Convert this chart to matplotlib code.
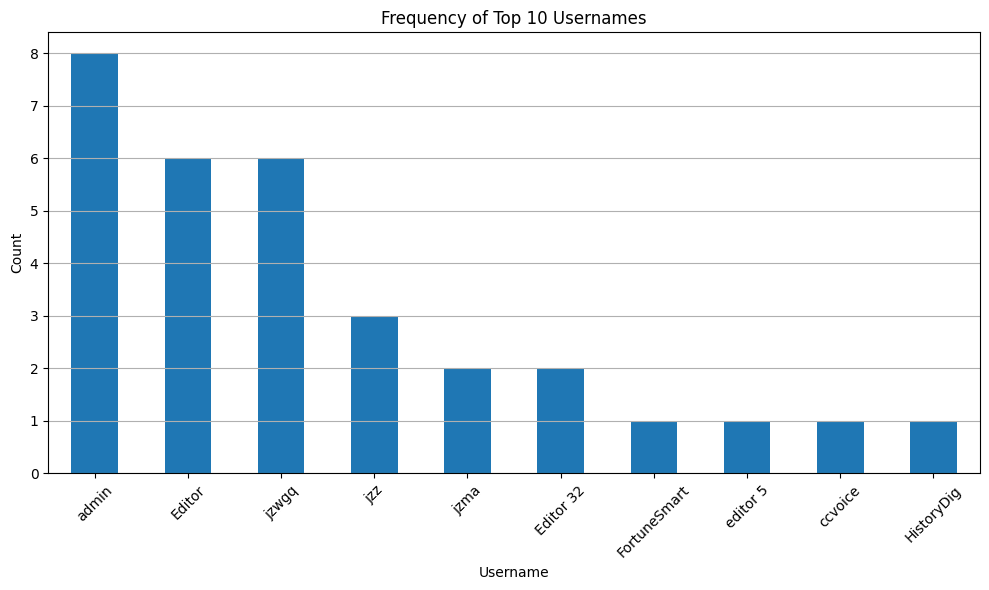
import matplotlib
matplotlib.use("Agg")
import matplotlib.pyplot as plt
import pandas as pd

# top 10 usernames and how often they appear
usernames = ["admin", "Editor", "jzwgq", "jzz", "jzma", "Editor 32",
             "FortuneSmart", "editor 5", "ccvoice", "HistoryDig"]
counts = [8, 6, 6, 3, 2, 2, 1, 1, 1, 1]

top_users = pd.Series(counts, index=usernames)

plt.figure(figsize=(10, 6))
top_users.plot(kind="bar", color="#1f77b4")
plt.title("Frequency of Top 10 Usernames")
plt.xlabel("Username")
plt.ylabel("Count")
plt.xticks(rotation=45)
plt.grid(axis="y")
plt.tight_layout()
plt.savefig("out.png", dpi=100, bbox_inches="tight")
